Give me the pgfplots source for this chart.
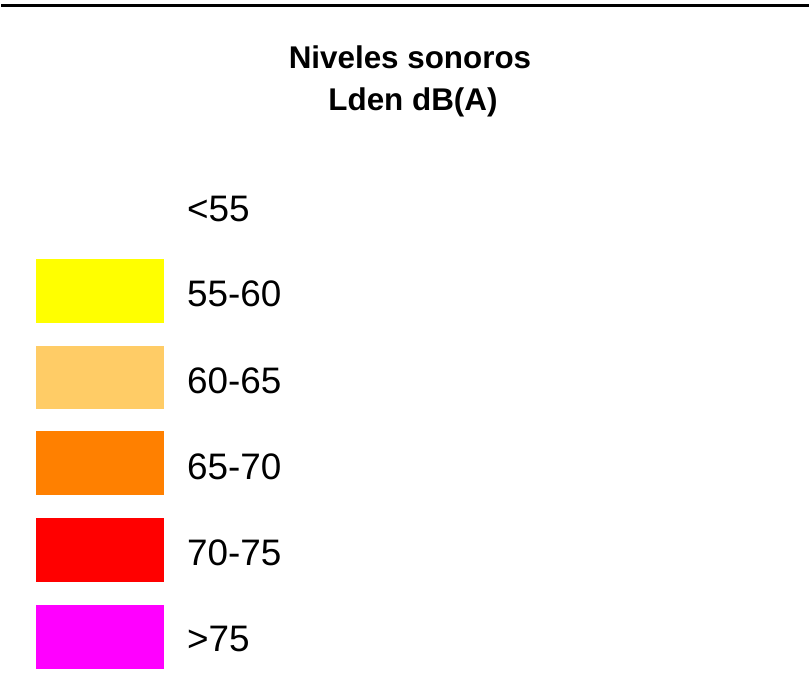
\documentclass[border=0pt]{standalone}
\usepackage{pgfplots}
\pgfplotsset{compat=1.18}
\usepackage{fontspec}
\setmainfont{Liberation Sans}
\definecolor{c1}{HTML}{FFFF00}
\definecolor{c2}{HTML}{FFCC66}
\definecolor{c3}{HTML}{FF8000}
\definecolor{c4}{HTML}{FF0000}
\definecolor{c5}{HTML}{FF00FF}
\tikzset{lbl/.style={anchor=base west, inner sep=0pt, font=\fontsize{37bp}{40bp}\selectfont}}
\begin{document}
\begin{tikzpicture}
\begin{axis}[
  width=810bp, height=700bp, scale only axis,
  xmin=0, xmax=810, ymin=0, ymax=700, y dir=reverse,
  hide axis, clip=false,
]
\addplot[draw=none, fill=white] coordinates {(0,0) (810,0) (810,700) (0,700)} -- cycle;
\addplot[black, line width=3bp] coordinates {(0,6) (810,6)};
% swatches
\addplot[draw=none, fill=c1] coordinates {(35,260) (163,260) (163,324) (35,324)} -- cycle;
\addplot[draw=none, fill=c2] coordinates {(35,347) (163,347) (163,411) (35,411)} -- cycle;
\addplot[draw=none, fill=c3] coordinates {(35,433) (163,433) (163,497) (35,497)} -- cycle;
\addplot[draw=none, fill=c4] coordinates {(35,520) (163,520) (163,584) (35,584)} -- cycle;
\addplot[draw=none, fill=c5] coordinates {(35,607) (163,607) (163,671) (35,671)} -- cycle;
% title
\node[anchor=base, inner sep=0pt, font=\bfseries\fontsize{31.5bp}{34bp}\selectfont] at (axis cs:410,69) {Niveles sonoros};
\node[anchor=base, inner sep=0pt, font=\bfseries\fontsize{31.5bp}{34bp}\selectfont] at (axis cs:413,111) {Lden dB(A)};
% labels
\node[lbl] at (axis cs:186,222) {<55};
\node[lbl] at (axis cs:186,308) {55-60};
\node[lbl] at (axis cs:186,395) {60-65};
\node[lbl] at (axis cs:186,481) {65-70};
\node[lbl] at (axis cs:186,568) {70-75};
\node[lbl] at (axis cs:186,654) {>75};
\end{axis}
\end{tikzpicture}
\end{document}
